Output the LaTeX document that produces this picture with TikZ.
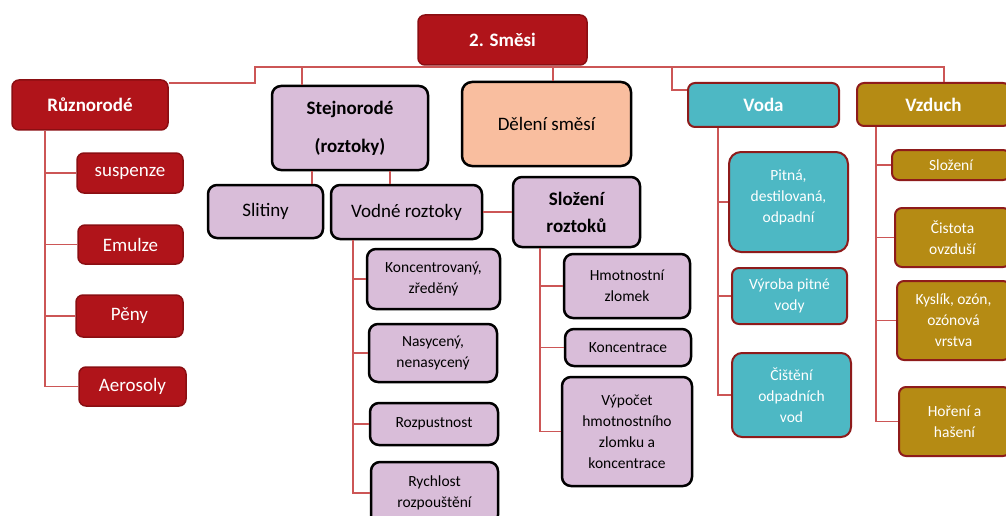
\documentclass[tikz,border=0pt]{standalone}
\usepackage{fontspec}
\setmainfont{Carlito}
\definecolor{redfill}{HTML}{B0141A}
\definecolor{redline}{HTML}{8A0E12}
\definecolor{lavfill}{HTML}{D9BDD9}
\definecolor{peach}{HTML}{F9BE9F}
\definecolor{teal}{HTML}{4DB8C4}
\definecolor{gold}{HTML}{B58B14}
\definecolor{frame}{HTML}{8E1B1B}
\definecolor{conn}{HTML}{CC5656}
\newcommand{\bigtext}{\fontsize{19}{24}\selectfont}
\newcommand{\smalltext}{\fontsize{15.5}{21}\selectfont}
\tikzset{
  box/.style={rounded corners=7pt, align=center, inner sep=0pt, minimum width=#1},
  redhead/.style={box=#1, fill=redfill, draw=redline, line width=1.5pt, text=white, font=\bigtext\bfseries},
  redsub/.style={box=#1, fill=redfill, draw=redline, line width=1.5pt, text=white, font=\bigtext},
  lavbox/.style={box=#1, fill=lavfill, draw=black, line width=2.5pt, rounded corners=9pt},
  peachbox/.style={box=#1, fill=peach, draw=black, line width=2.5pt, rounded corners=10pt, font=\bigtext},
  tealbox/.style={box=#1, fill=teal, draw=frame, line width=2pt, text=white},
  goldbox/.style={box=#1, fill=gold, draw=frame, line width=2pt, text=white},
  link/.style={draw=conn, line width=1.5pt},
}
\begin{document}
\begin{tikzpicture}[x=1pt,y=-1pt]
\useasboundingbox (0,0) rectangle (1006,516);
\clip (0,0) rectangle (1006,516);

% top level
\node[redhead=169pt, minimum height=50pt] (sm) at (502.5,40) {2. Směsi};
\node[redhead=156pt, minimum height=50pt] (ruz) at (90,105) {Různorodé};
\node[lavbox=156pt, minimum height=84pt, font=\fontsize{19}{38}\selectfont\bfseries] (ste) at (350,128) {Stejnorodé\\(roztoky)};
\node[peachbox=169pt, minimum height=84pt] (del) at (546.5,124) {Dělení směsí};
\node[tealbox=151pt, minimum height=44pt, font=\bigtext\bfseries] (voda) at (763.5,105) {Voda};
\node[goldbox=153pt, minimum height=43pt, font=\bigtext\bfseries] (vz) at (933.5,104.5) {Vzduch};

% heterogeneous mixtures
\node[redsub=106pt, minimum height=40pt] (susp) at (130,173) {suspenze};
\node[redsub=105pt, minimum height=39pt] (emul) at (130.5,244.5) {Emulze};
\node[redsub=107pt, minimum height=42pt] (peny) at (129.5,316) {Pěny};
\node[redsub=107pt, minimum height=39pt] (aero) at (132.5,386.5) {Aerosoly};

% solutions
\node[lavbox=115pt, minimum height=53pt, font=\bigtext] (sli) at (265.5,211.5) {Slitiny};
\node[lavbox=151pt, minimum height=54pt, font=\bigtext] (vod) at (406.5,212) {Vodné roztoky};
\node[lavbox=127pt, minimum height=70pt, font=\fontsize{19}{27}\selectfont\bfseries] (slo) at (576.5,212) {Složení\\roztoků};

\node[lavbox=133pt, minimum height=60pt, font=\smalltext] (kon) at (433.5,279) {Koncentrovaný,\\zředěný};
\node[lavbox=128pt, minimum height=58pt, font=\smalltext] (nas) at (433,353) {Nasycený,\\nenasycený};
\node[lavbox=128pt, minimum height=42pt, font=\smalltext] (roz) at (434,424) {Rozpustnost};
\node[lavbox=127pt, minimum height=62pt, font=\smalltext] (rych) at (434.5,493) {Rychlost\\rozpouštění};

\node[lavbox=126pt, minimum height=64pt, font=\smalltext] (hmo) at (627,286) {Hmotnostní\\zlomek};
\node[lavbox=126pt, minimum height=37pt, font=\smalltext] (konc) at (628,347.5) {Koncentrace};
\node[lavbox=130pt, minimum height=109pt, font=\smalltext] (vyp) at (627,431.5) {Výpočet\\hmotnostního\\zlomku a\\koncentrace};

% water
\node[tealbox=119pt, minimum height=100pt, font=\smalltext, rounded corners=12pt] (pit) at (788.5,202) {Pitná,\\destilovaná,\\odpadní\\[-9pt]};
\node[tealbox=115pt, minimum height=56pt, font=\smalltext] (vyr) at (789.5,296) {Výroba pitné\\vody};
\node[tealbox=119pt, minimum height=84pt, font=\smalltext, rounded corners=10pt] (cis) at (791.5,395) {Čištění\\odpadních\\vod};

% air
\node[goldbox=118pt, minimum height=30pt, font=\smalltext] (sloz) at (951,165) {Složení};
\node[goldbox=115pt, minimum height=59pt, font=\smalltext] (cist) at (952.5,237.5) {Čistota\\ovzduší};
\node[goldbox=113pt, minimum height=79pt, font=\smalltext] (kys) at (953.5,320.5) {Kyslík, ozón,\\ozónová\\vrstva};
\node[goldbox=111pt, minimum height=69pt, font=\smalltext] (hor) at (954.5,421.5) {Hoření a\\hašení};

% connectors from the root
\draw[link] (sm.south) |- (255,67) -- (255,83) -- (ruz.east |- 0,83);
\draw[link] (sm.south) |- (302,67) -- (ste.north -| 302,0);
\draw[link] (sm.south) |- (553,67) -- (del.north -| 553,0);
\draw[link] (sm.south) |- (672,67) |- (voda.west |- 0,90);
\draw[link] (sm.south) |- (944,67) -- (vz.north -| 944,0);

% heterogeneous branch
\foreach \c in {susp,emul,peny,aero}
  \draw[link] (ruz.south -| 45,0) |- (\c.west);

% homogeneous branch
\draw[link] (ste.south -| 312,0) -- (sli.north -| 312,0);
\draw[link] (ste.south -| 390,0) -- (vod.north -| 390,0);
\draw[link] (vod.east) -- (slo.west |- vod.east);
\foreach \c in {kon,nas,roz,rych}
  \draw[link] (vod.south -| 353,0) |- (\c.west);
\foreach \c in {hmo,konc,vyp}
  \draw[link] (slo.south -| 540,0) |- (\c.west);

% water and air branches
\foreach \c in {pit,vyr,cis}
  \draw[link] (voda.south -| 718,0) |- (\c.west);
\foreach \c in {sloz,cist,kys,hor}
  \draw[link] (vz.south -| 876,0) |- (\c.west);
\end{tikzpicture}
\end{document}
